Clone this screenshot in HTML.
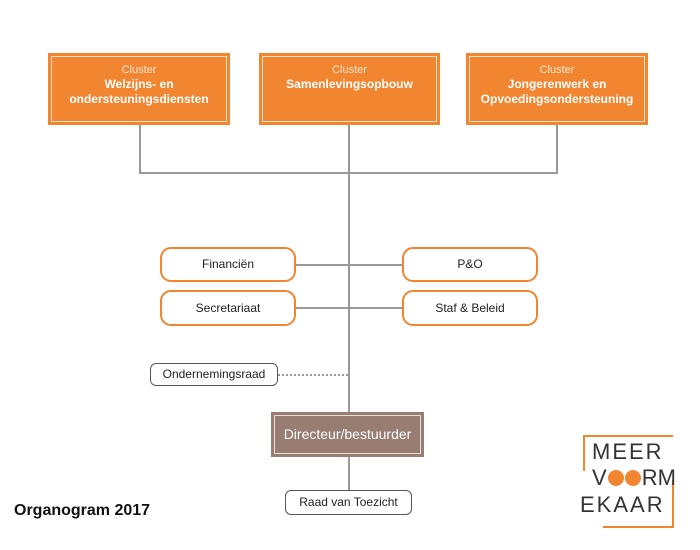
<!DOCTYPE html>
<html><head><meta charset="utf-8"><style>
body{margin:0;width:700px;height:550px;background:#fff;position:relative;font-family:"Liberation Sans",sans-serif;overflow:hidden}
.ab{position:absolute;box-sizing:border-box}
.cl{background:#f28530;color:#fff;text-align:center}
.cl .in{position:absolute;left:3px;top:3px;right:3px;bottom:3px;border:1px solid #fde0c8}
.cl .t1{font-size:11px;margin-top:11px;color:#fde6d3}
.cl .t2{font-size:12px;font-weight:bold;line-height:15px;margin-top:1px}
.ln{position:absolute;background:#999}
.ob{border:2px solid #f28530;border-radius:11px;background:#fff;font-size:12px;text-align:center;color:#222}
.gb{border:1.5px solid #555;border-radius:6px;background:#fff;font-size:12px;text-align:center;color:#222}
</style></head><body>
<div class="ln" style="left:139px;top:125px;width:2px;height:49px"></div>
<div class="ln" style="left:556px;top:125px;width:2px;height:49px"></div>
<div class="ln" style="left:139px;top:172px;width:419px;height:2px"></div>
<div class="ln" style="left:348px;top:125px;width:2px;height:288px"></div>
<div class="ln" style="left:348px;top:457px;width:2px;height:34px"></div>
<div class="ln" style="left:296px;top:264px;width:106px;height:2px"></div>
<div class="ln" style="left:296px;top:307px;width:106px;height:2px"></div>
<div class="ab" style="left:278px;top:374px;width:70px;height:0;border-top:2px dotted #999"></div>

<div class="ab cl" style="left:48px;top:53px;width:182px;height:72px"><div class="in"></div><div class="t1">Cluster</div><div class="t2">Welzijns- en<br>ondersteuningsdiensten</div></div>
<div class="ab cl" style="left:259px;top:53px;width:181px;height:72px"><div class="in"></div><div class="t1">Cluster</div><div class="t2">Samenlevingsopbouw</div></div>
<div class="ab cl" style="left:466px;top:53px;width:182px;height:72px"><div class="in"></div><div class="t1">Cluster</div><div class="t2">Jongerenwerk en<br>Opvoedingsondersteuning</div></div>

<div class="ab ob" style="left:160px;top:247px;width:136px;height:35px;line-height:31px">Financiën</div>
<div class="ab ob" style="left:402px;top:247px;width:136px;height:35px;line-height:31px">P&amp;O</div>
<div class="ab ob" style="left:160px;top:290px;width:136px;height:36px;line-height:32px">Secretariaat</div>
<div class="ab ob" style="left:402px;top:290px;width:136px;height:36px;line-height:32px">Staf &amp; Beleid</div>

<div class="ab gb" style="left:150px;top:363px;width:128px;height:23px;line-height:20px">Ondernemingsraad</div>
<div class="ab" style="left:271px;top:412px;width:153px;height:45px;background:#977d72"><div class="ab" style="left:3px;top:3px;right:3px;bottom:3px;border:1px solid #e6dcd7;color:#fff;font-size:14px;text-align:center;line-height:37px">Directeur/bestuurder</div></div>
<div class="ab gb" style="left:285px;top:490px;width:127px;height:25px;line-height:22px">Raad van Toezicht</div>

<div class="ab" style="left:14px;top:502px;font-size:16px;font-weight:bold;color:#111">Organogram 2017</div>

<div class="ab" style="left:583px;top:435px;width:90px;height:2px;background:#f28530"></div>
<div class="ab" style="left:583px;top:435px;width:2px;height:36px;background:#f28530"></div>
<div class="ab" style="left:672px;top:480px;width:2px;height:48px;background:#f28530"></div>
<div class="ab" style="left:603px;top:526px;width:71px;height:2px;background:#f28530"></div>
<div class="ab" style="left:592px;top:440px;font-size:22px;letter-spacing:2px;color:#333;line-height:24px">MEER</div>
<div class="ab" style="left:592px;top:466px;font-size:22px;letter-spacing:0;color:#333;line-height:24px">V<span style="display:inline-block;width:16px;height:16px;border-radius:50%;background:#f28530;vertical-align:-1px;margin-left:1px"></span><span style="display:inline-block;width:16px;height:16px;border-radius:50%;background:#f28530;vertical-align:-1px;margin-left:1px;margin-right:1px"></span>RM</div>
<div class="ab" style="left:580px;top:493px;font-size:22px;letter-spacing:2px;color:#333;line-height:24px">EKAAR</div>
</body></html>
